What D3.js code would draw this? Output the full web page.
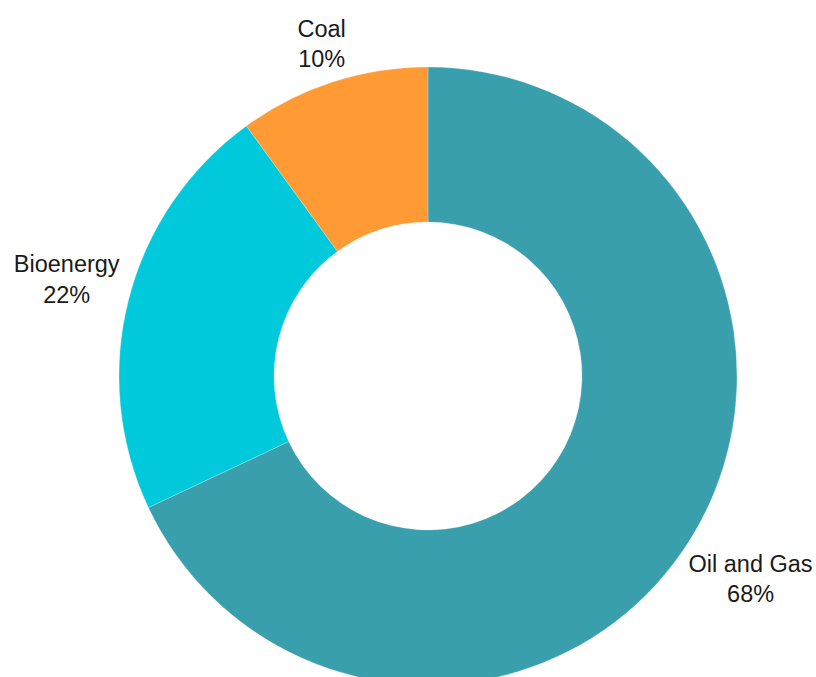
<!DOCTYPE html>
<html>
<head>
<meta charset="utf-8">
<script src="https://cdn.jsdelivr.net/npm/d3@7"></script>
<style>
  html, body { margin: 0; padding: 0; background: #fff; }
  svg { display: block; }
  text { font-family: "Liberation Sans", Arial, sans-serif; fill: #1a1a1a; }
</style>
</head>
<body>
<svg id="chart" width="816" height="677"></svg>
<script>
// Energy source shares (percent)
const categories = ["Oil and Gas", "Bioenergy", "Coal"];
const shares = [68, 22, 10];
const colors = ["#3A9FAD", "#00C9DC", "#FF9A35"];

const width = 816, height = 677;
const cx = 428, cy = 376;
const outerR = 309, innerR = 154;

const svg = d3.select("#chart");
const g = svg.append("g").attr("transform", `translate(${cx},${cy})`);

const pie = d3.pie().sort(null).value(d => d.value);
const arcs = pie(categories.map((c, i) => ({ name: c, value: shares[i], color: colors[i] })));

const arc = d3.arc().innerRadius(innerR).outerRadius(outerR);
g.selectAll("path.slice")
  .data(arcs)
  .join("path")
  .attr("class", "slice")
  .attr("d", arc)
  .attr("fill", d => d.data.color)
  .attr("stroke", "#ffffff")
  .attr("stroke-opacity", 0.35)
  .attr("stroke-width", 0.6);

// Labels sit just outside the ring, pushed out by half their width
const labelArc = d3.arc().innerRadius(320).outerRadius(320);
const verticalShift = [24.5, -24.4, -34.7];
const fontSize = 23.5, lineGap = 30.5;

const labels = g.selectAll("g.label")
  .data(arcs)
  .join("g")
  .attr("class", "label");

labels.each(function(d, i) {
  const sel = d3.select(this);
  const t = sel.append("text")
    .attr("text-anchor", "middle")
    .attr("font-size", fontSize);
  t.append("tspan").attr("x", 0).attr("y", 0).text(d.data.name);
  t.append("tspan").attr("x", 0).attr("y", lineGap).text(d.data.value + "%");
  const w = t.node().getBBox().width;
  const [x0, y0] = labelArc.centroid(d);
  const mid = (d.startAngle + d.endAngle) / 2;
  const x = x0 + Math.sin(mid) * w / 2;
  const y = y0 + verticalShift[i];
  sel.attr("transform", `translate(${x},${y})`);
});
</script>
</body>
</html>
